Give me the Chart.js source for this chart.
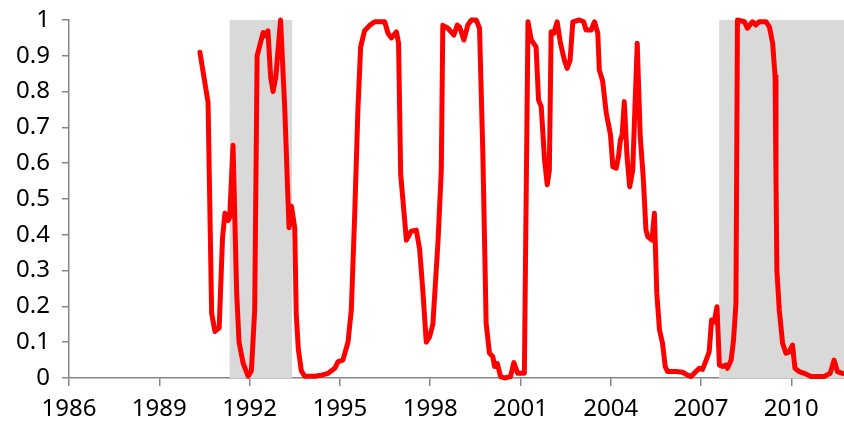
<!DOCTYPE html>
<html>
<head>
<meta charset="utf-8">
<script src="https://cdn.jsdelivr.net/npm/chart.js@4.4.1/dist/chart.umd.min.js"></script>
<style>
	html, body { margin: 0; padding: 0; background: #fff; }
	#wrap { width: 844px; height: 428px; position: relative; }
</style>
</head>
<body>
<div id="wrap"><canvas id="chart"></canvas></div>
<script>
// decimal years and probability values
const years = [
	1990.35, 1990.62, 1990.74, 1990.85, 1990.99, 1991.10, 1991.18, 1991.29, 1991.34, 1991.45,
	1991.57, 1991.65, 1991.79, 1991.95, 1992.06, 1992.17, 1992.25, 1992.45, 1992.54, 1992.61,
	1992.70, 1992.78, 1992.87, 1993.03, 1993.17, 1993.28, 1993.31, 1993.39, 1993.50, 1993.55,
	1993.62, 1993.72, 1993.83, 1994.16, 1994.39, 1994.61, 1994.83, 1994.94, 1995.10, 1995.27,
	1995.38, 1995.49, 1995.60, 1995.69, 1995.82, 1995.99, 1996.16, 1996.49, 1996.60, 1996.71,
	1996.88, 1996.95, 1997.02, 1997.21, 1997.37, 1997.54, 1997.65, 1997.76, 1997.87, 1997.98,
	1998.09, 1998.26, 1998.37, 1998.42, 1998.59, 1998.79, 1998.90, 1998.98, 1999.12, 1999.25,
	1999.37, 1999.53, 1999.64, 1999.75, 1999.86, 1999.97, 2000.08, 2000.14, 2000.23, 2000.34,
	2000.47, 2000.67, 2000.78, 2000.91, 2001.05, 2001.13, 2001.25, 2001.36, 2001.52, 2001.60,
	2001.69, 2001.80, 2001.89, 2001.96, 2002.02, 2002.11, 2002.22, 2002.33, 2002.46, 2002.55,
	2002.65, 2002.74, 2002.96, 2003.10, 2003.18, 2003.35, 2003.46, 2003.57, 2003.62, 2003.73,
	2003.85, 2003.99, 2004.07, 2004.18, 2004.26, 2004.32, 2004.38, 2004.45, 2004.54, 2004.63,
	2004.73, 2004.88, 2004.98, 2005.08, 2005.17, 2005.23, 2005.37, 2005.45, 2005.53, 2005.62,
	2005.72, 2005.81, 2005.89, 2006.17, 2006.39, 2006.55, 2006.67, 2006.83, 2006.94, 2007.05,
	2007.17, 2007.27, 2007.35, 2007.44, 2007.53, 2007.61, 2007.72, 2007.83, 2007.88, 2008.00,
	2008.08, 2008.16, 2008.21, 2008.44, 2008.54, 2008.71, 2008.82, 2008.93, 2009.16, 2009.27,
	2009.38, 2009.46, 2009.49, 2009.52, 2009.60, 2009.71, 2009.82, 2009.93, 2010.04, 2010.12,
	2010.26, 2010.43, 2010.65, 2010.87, 2011.09, 2011.29, 2011.42, 2011.53, 2011.70
];
const probs = [
	0.91, 0.77, 0.18, 0.13, 0.14, 0.39, 0.46, 0.44, 0.45, 0.65,
	0.24, 0.10, 0.04, 0.005, 0.02, 0.19, 0.90, 0.965, 0.955, 0.97,
	0.84, 0.80, 0.84, 1.0, 0.75, 0.49, 0.42, 0.48, 0.42, 0.18,
	0.08, 0.02, 0.005, 0.005, 0.008, 0.013, 0.027, 0.046, 0.05, 0.10,
	0.19, 0.45, 0.75, 0.925, 0.97, 0.985, 0.995, 0.995, 0.963, 0.95,
	0.967, 0.935, 0.57, 0.385, 0.41, 0.413, 0.36, 0.24, 0.10, 0.115,
	0.15, 0.38, 0.58, 0.985, 0.977, 0.958, 0.986, 0.98, 0.944, 0.986,
	1.0, 1.0, 0.977, 0.63, 0.153, 0.069, 0.06, 0.032, 0.041, 0.004,
	0.0, 0.004, 0.043, 0.013, 0.013, 0.013, 0.995, 0.944, 0.925, 0.777,
	0.758, 0.61, 0.54, 0.58, 0.967, 0.963, 0.995, 0.935, 0.888, 0.865,
	0.888, 0.995, 1.0, 0.995, 0.972, 0.972, 0.995, 0.963, 0.86, 0.83,
	0.74, 0.68, 0.59, 0.586, 0.62, 0.665, 0.68, 0.772, 0.62, 0.534,
	0.58, 0.935, 0.674, 0.56, 0.413, 0.395, 0.385, 0.46, 0.237, 0.134,
	0.097, 0.032, 0.018, 0.018, 0.016, 0.008, 0.004, 0.018, 0.027, 0.024,
	0.05, 0.073, 0.162, 0.157, 0.199, 0.036, 0.032, 0.036, 0.027, 0.05,
	0.106, 0.209, 1.0, 0.995, 0.977, 0.995, 0.986, 0.995, 0.995, 0.981,
	0.935, 0.842, 0.56, 0.30, 0.19, 0.097, 0.069, 0.073, 0.092, 0.027,
	0.018, 0.013, 0.004, 0.004, 0.004, 0.013, 0.05, 0.018, 0.013
];
// shaded recession periods
const recessionStart = [1991.33, 2007.6];
const recessionEnd = [1993.42, 2011.75];
const yTicks = [0, 0.1, 0.2, 0.3, 0.4, 0.5, 0.6, 0.7, 0.8, 0.9, 1];

const font = { family: "'Noto Sans', 'Open Sans', sans-serif", size: 24 };
const axisGrey = '#868686';

const shade = [];
recessionStart.forEach((s, i) => {
	if (i > 0) shade.push({ x: (recessionEnd[i - 1] + s) / 2, y: null });
	shade.push({ x: s, y: 1 }, { x: recessionEnd[i], y: 1 });
});

new Chart(document.getElementById('chart'), {
	type: 'line',
	data: {
		datasets: [{
			data: years.map((x, i) => ({ x, y: probs[i] })),
			borderColor: '#ff0000',
			borderWidth: 5,
			borderJoinStyle: 'round',
			borderCapStyle: 'round',
			pointRadius: 0,
			tension: 0,
			clip: 3,
			order: 0
		}, {
			data: shade,
			borderWidth: 0,
			pointRadius: 0,
			backgroundColor: '#d9d9d9',
			fill: 'origin',
			spanGaps: false,
			order: 1
		}]
	},
	options: {
		responsive: true,
		maintainAspectRatio: false,
		animation: false,
		layout: { padding: { top: 20, right: 0, left: 0, bottom: 0 } },
		plugins: { legend: { display: false }, tooltip: { enabled: false } },
		scales: {
			x: {
				type: 'linear',
				min: 1986,
				max: 2011.75,
				afterFit: s => { s.height = 50; s.paddingLeft = 0; s.paddingRight = 0; },
				border: { color: axisGrey, width: 1.5 },
				grid: { drawOnChartArea: false, drawTicks: true, tickLength: 8, color: axisGrey, lineWidth: 1.5 },
				ticks: {
					stepSize: 3,
					includeBounds: false,
					autoSkip: false,
					maxRotation: 0,
					padding: 9,
					color: '#000',
					font,
					callback: v => String(v)
				}
			},
			y: {
				min: 0,
				max: 1,
				afterFit: s => { s.width = 69; s.paddingTop = 0; s.paddingBottom = 0; },
				afterBuildTicks: s => { s.ticks = yTicks.map(value => ({ value })); },
				border: { color: axisGrey, width: 1.5 },
				grid: { drawOnChartArea: false, drawTicks: true, tickLength: 7, color: axisGrey, lineWidth: 1.5 },
				ticks: {
					padding: 12,
					color: '#000',
					font,
					callback: v => String(Number(v.toFixed(1)))
				}
			}
		}
	}
});
</script>
</body>
</html>
